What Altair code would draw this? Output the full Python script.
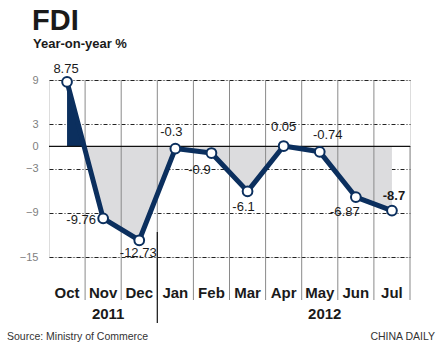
import altair as alt
import pandas as pd

months = ["Oct", "Nov", "Dec", "Jan", "Feb", "Mar", "Apr", "May", "Jun", "Jul"]
values = [8.75, -9.76, -12.73, -0.3, -0.9, -6.1, 0.05, -0.74, -6.87, -8.7]
labels = ["8.75", "-9.76", "-12.73", "-0.3", "-0.9", "-6.1", "0.05", "-0.74", "-6.87", "-8.7"]
y_ticks = [9, 3, 0, -3, -9, -15]
years = ["2011", "2012"]
year_anchor_month = ["Nov", "May"]

# label offsets (style)
label_dx = {"Oct": -1, "Nov": -22, "Dec": -1, "Jan": -4, "Feb": -12, "Mar": -4,
            "Apr": 0, "May": 8, "Jun": -11, "Jul": 2}
label_dy = {"Oct": -13, "Nov": 2, "Dec": 13, "Jan": -17, "Feb": 17, "Mar": 16,
            "Apr": -19, "May": -17, "Jun": 15, "Jul": -15}

NAVY = "#0b2f5e"
GRAY_FILL = "#dcdcde"
W, H = 361, 177

df = pd.DataFrame({"month": months, "value": values, "label": labels})
df["zero"] = 0

top = max(max(values), 0)
bot = min(min(values), 0)
off = top / (top - bot)

xsc = alt.Scale(domain=months, paddingInner=0, paddingOuter=0)
ysc = alt.Scale(domain=[-15, 9], nice=False, zero=False)


def X(field="month:N", **kw):
    return alt.X(field, scale=xsc, sort=months, **kw)


def Y(field="value:Q"):
    return alt.Y(field, scale=ysc)


base = alt.Chart(df)

area = base.mark_area(
    color=alt.Gradient(
        gradient="linear",
        x1=0, x2=0, y1=0, y2=1,
        stops=[
            alt.GradientStop(offset=0, color=NAVY),
            alt.GradientStop(offset=off, color=NAVY),
            alt.GradientStop(offset=off, color=GRAY_FILL),
            alt.GradientStop(offset=1, color=GRAY_FILL),
        ],
    )
).encode(
    x=alt.X("month:N", scale=xsc, sort=months,
            axis=alt.Axis(title=None, domain=False, ticks=False, labelAngle=0,
                          labelPadding=28, labelFont="Liberation Sans",
                          labelFontSize=15, labelFontWeight="bold",
                          labelColor="#1a1a1a", grid=False)),
    y=alt.Y("value:Q", scale=ysc,
            axis=alt.Axis(title=None, values=y_ticks, tickCount=20,
                          domain=False, ticks=False,
                          labelOverlap=False, labelPadding=11,
                          labelFont="Liberation Sans",
                          labelFontSize=11, labelColor="#808080",
                          grid=True, gridColor="#222222", gridDash=[4, 2, 1, 2],
                          gridWidth=1)),
    y2="zero:Q",
)

sep_df = pd.DataFrame({"month": months[1:]})
seps = alt.Chart(sep_df).mark_rule(color="#8a8a8a", strokeWidth=1).encode(
    x=X(bandPosition=0),
    y=alt.value(0),
    y2=alt.value(220),
)

right_edge = alt.Chart(pd.DataFrame({"value": [0]})).mark_rule(color="#8a8a8a", strokeWidth=1).encode(
    x=alt.value(W),
    y=Y(),
    y2=alt.value(220),
)

year_sep = alt.Chart(pd.DataFrame({"month": ["Jan"]})).mark_rule(color="#111111", strokeWidth=1.2).encode(
    x=X(bandPosition=0),
    y=alt.value(152),
    y2=alt.value(243),
)

zero_line = alt.Chart(pd.DataFrame({"value": [0]})).mark_rule(color="#111111", strokeWidth=1.3).encode(
    y=Y(),
)

line = base.mark_line(color=NAVY, strokeWidth=5, strokeJoin="round").encode(x=X(), y=Y())

pts = base.mark_point(filled=True, fill="white", stroke=NAVY, strokeWidth=2,
                      size=95, opacity=1, shape="circle").encode(x=X(), y=Y())

texts = []
for m, lab, v in zip(months, labels, values):
    d = pd.DataFrame({"month": [m], "value": [v], "label": [lab]})
    texts.append(
        alt.Chart(d).mark_text(
            dx=label_dx[m], dy=label_dy[m], font="Liberation Sans",
            fontSize=13, fontWeight="bold" if m == "Jul" else "normal",
            color="#1a1a1a",
        ).encode(x=X(), y=Y(), text="label:N")
    )

year_df = pd.DataFrame({"month": year_anchor_month, "year": years})
year_text = alt.Chart(year_df).mark_text(
    font="Liberation Sans", fontSize=15, fontWeight="bold", color="#1a1a1a",
    dx=5, baseline="middle",
).encode(x=X(), y=alt.value(234), text="year:N")

title = alt.Chart(pd.DataFrame({"t": ["FDI"]})).mark_text(
    font="Liberation Sans", fontSize=29, fontWeight="bold", color="#1a1a1a",
    align="left", baseline="alphabetic",
).encode(x=alt.value(-17), y=alt.value(-50), text="t:N")

subtitle = alt.Chart(pd.DataFrame({"t": ["Year-on-year %"]})).mark_text(
    font="Liberation Sans", fontSize=13, fontWeight="bold", color="#1a1a1a",
    align="left", baseline="alphabetic",
).encode(x=alt.value(-16), y=alt.value(-32), text="t:N")

source = alt.Chart(pd.DataFrame({"t": ["Source: Ministry of Commerce"]})).mark_text(
    font="Liberation Sans", fontSize=10.5, color="#333333",
    align="left", baseline="middle",
).encode(x=alt.value(-42), y=alt.value(257), text="t:N")

brand = alt.Chart(pd.DataFrame({"t": ["CHINA DAILY"]})).mark_text(
    font="Liberation Sans", fontSize=10.5, color="#333333",
    align="right", baseline="middle",
).encode(x=alt.value(386), y=alt.value(257), text="t:N")

chart = alt.layer(
    area, seps, right_edge, year_sep, zero_line, line, pts, *texts,
    year_text, title, subtitle, source, brand,
).properties(
    width=W, height=H,
    autosize=alt.AutoSizeParams(type="none"),
    padding={"left": 49, "top": 80, "right": 35, "bottom": 97},
).configure_view(stroke=None).configure(background="white")

chart.save("out.html", embed_options={"renderer": "svg", "actions": False})
